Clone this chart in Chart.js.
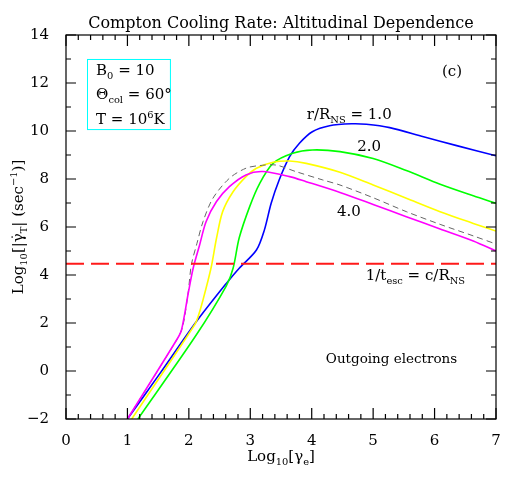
<!DOCTYPE html>
<html>
<head>
<meta charset="utf-8">
<script src="https://cdn.jsdelivr.net/npm/chart.js@4.4.1/dist/chart.umd.min.js"></script>
<style>
  html, body { margin: 0; padding: 0; background: #fff; }
  canvas { display: block; }
</style>
</head>
<body>
<canvas id="chart" width="512" height="489"></canvas>
<script>
// Log10[gamma_e] against Log10[|gamma dot|], one curve per altitude r/R_NS
const r1X = [1.0, 1.53, 2.12, 2.61, 2.82, 3.1, 3.23, 3.34, 3.47, 3.64, 3.8, 4.01, 4.29, 4.65, 4.89, 5.27, 5.82, 6.36, 7.0];
const r1Y = [-2.0, -0.1, 2.05, 3.65, 4.28, 5.04, 5.88, 6.99, 7.96, 8.93, 9.49, 9.97, 10.22, 10.3, 10.28, 10.14, 9.76, 9.39, 8.97];

const r2X = [1.17, 2.12, 2.61, 2.72, 2.82, 2.99, 3.15, 3.37, 3.69, 4.01, 4.46, 5.0, 5.54, 6.09, 6.63, 7.0];
const r2Y = [-2.0, 1.5, 3.55, 4.28, 5.55, 6.85, 7.8, 8.65, 9.07, 9.21, 9.14, 8.85, 8.35, 7.78, 7.3, 6.99];

const r3X = [1.07, 2.1, 2.15, 2.23, 2.36, 2.45, 2.55, 2.72, 2.93, 3.1, 3.37, 3.64, 3.91, 4.46, 5.0, 5.54, 6.09, 6.63, 7.0];
const r3Y = [-2.0, 1.95, 2.26, 2.96, 4.28, 5.53, 6.64, 7.47, 8.1, 8.45, 8.7, 8.75, 8.65, 8.28, 7.75, 7.2, 6.64, 6.15, 5.83];

const r4X = [1.0, 1.8, 1.88, 1.99, 2.07, 2.175, 2.28, 2.45, 2.66, 2.93, 3.2, 3.64, 3.91, 4.46, 5.0, 5.54, 6.09, 6.63, 7.0];
const r4Y = [-2.0, 1.29, 1.71, 3.24, 4.28, 5.25, 6.22, 7.06, 7.68, 8.17, 8.31, 8.1, 7.89, 7.44, 6.94, 6.43, 5.92, 5.42, 5.0];

const refX = [1.0, 1.8, 1.9, 1.99, 2.04, 2.13, 2.23, 2.39, 2.66, 2.93, 3.15, 3.42, 3.74, 4.18, 4.46, 5.0, 5.54, 6.09, 6.63, 7.0];
const refY = [-2.0, 1.29, 1.85, 3.3, 4.42, 5.3, 6.22, 7.19, 8.03, 8.45, 8.56, 8.58, 8.31, 7.96, 7.75, 7.22, 6.64, 6.11, 5.63, 5.29];

// escape rate c/R_NS
const escX = [0, 7];
const escY = [4.47, 4.47];

const xTicks = [0, 1, 2, 3, 4, 5, 6, 7];
const yTicks = [-2, 0, 2, 4, 6, 8, 10, 12, 14];

const FONT = '"DejaVu Serif"';

// text on the plot: [text, mode] with n = normal, b = subscript, p = superscript
const notes = [
  { x: 3.92, y: 10.5, size: 15, parts: [['r/R', 'n'], ['NS', 'b'], [' = 1.0', 'n']] },
  { x: 4.74, y: 9.17, size: 15, parts: [['2.0', 'n']] },
  { x: 4.41, y: 6.46, size: 15, parts: [['4.0', 'n']] },
  { x: 4.88, y: 3.79, size: 15, parts: [['1/t', 'n'], ['esc', 'b'], [' = c/R', 'n'], ['NS', 'b']] },
  { x: 4.23, y: 0.33, size: 13.5, parts: [['Outgoing electrons', 'n']] },
  { x: 6.12, y: 12.29, size: 15, parts: [['(c)', 'n']] },
  { x: 0.49, y: 12.33, size: 15, parts: [['B', 'n'], ['0', 'b'], [' = 10', 'n']] },
  { x: 0.49, y: 11.33, size: 15, parts: [['\u0398', 'n'], ['col', 'b'], [' = 60\u00b0', 'n']] },
  { x: 0.49, y: 10.29, size: 15, parts: [['T = 10', 'n'], ['6', 'p'], ['K', 'n']] }
];
const paramBox = { x0: 0.35, x1: 1.70, y0: 12.98, y1: 10.06 };

function pts(xs, ys) {
  return xs.map((v, i) => ({ x: v, y: ys[i] }));
}

function rich(ctx, parts, x, y, size, align) {
  const sm = size * 0.66;
  let w = 0;
  parts.forEach(([t, m]) => {
    ctx.font = (m === 'n' ? size : sm) + 'px ' + FONT;
    w += ctx.measureText(t).width;
  });
  let cx = align === 'center' ? x - w / 2 : x;
  parts.forEach(([t, m]) => {
    ctx.font = (m === 'n' ? size : sm) + 'px ' + FONT;
    const dy = m === 'b' ? size * 0.28 : m === 'p' ? -size * 0.42 : 0;
    ctx.fillText(t, cx, y + dy);
    cx += ctx.measureText(t).width;
  });
}

const frame = {
  id: 'frame',
  afterDraw(chart) {
    const { ctx, chartArea: a, scales: { x, y } } = chart;
    ctx.save();
    ctx.strokeStyle = '#000';
    ctx.lineWidth = 1.2;
    ctx.strokeRect(a.left, a.top, a.right - a.left, a.bottom - a.top);

    ctx.beginPath();
    for (let i = 0; i <= 35; i++) {
      const px = x.getPixelForValue(i / 5);
      const len = i % 5 === 0 ? 11 : 5;
      ctx.moveTo(px, a.bottom); ctx.lineTo(px, a.bottom - len);
      ctx.moveTo(px, a.top); ctx.lineTo(px, a.top + len);
    }
    for (let v = -2; v <= 14; v++) {
      const py = y.getPixelForValue(v);
      const len = v % 2 === 0 ? 10 : 5;
      ctx.moveTo(a.left, py); ctx.lineTo(a.left + len, py);
      ctx.moveTo(a.right, py); ctx.lineTo(a.right - len, py);
    }
    ctx.stroke();

    // parameter box
    ctx.strokeStyle = '#00ffff';
    ctx.lineWidth = 1;
    const bx0 = x.getPixelForValue(paramBox.x0), bx1 = x.getPixelForValue(paramBox.x1);
    const by0 = y.getPixelForValue(paramBox.y0), by1 = y.getPixelForValue(paramBox.y1);
    ctx.strokeRect(bx0, by0, bx1 - bx0, by1 - by0);

    ctx.fillStyle = '#000';
    ctx.textBaseline = 'alphabetic';
    ctx.textAlign = 'left';
    notes.forEach(n => rich(ctx, n.parts, x.getPixelForValue(n.x), y.getPixelForValue(n.y), n.size, 'left'));

    // title
    const cx = (a.left + a.right) / 2;
    rich(ctx, [['Compton Cooling Rate: Altitudinal Dependence', 'n']], cx, 28, 16, 'center');

    // x axis title
    rich(ctx, [['Log', 'n'], ['10', 'b'], ['[\u03b3', 'n'], ['e', 'b'], [']', 'n']], cx, 461, 15, 'center');

    // y axis title
    ctx.translate(23, (a.top + a.bottom) / 2);
    ctx.rotate(-Math.PI / 2);
    rich(ctx, [['Log', 'n'], ['10', 'b'], ['[|\u03b3\u0307', 'n'], ['T', 'b'], ['| (sec', 'n'], ['\u22121', 'p'], [')]', 'n']], 0, 0, 15, 'center');
    ctx.restore();
  }
};

Chart.defaults.font.family = FONT;
Chart.defaults.font.size = 15;
Chart.defaults.color = '#000';

const line = (data, color, extra) => Object.assign({
  data: data,
  borderColor: color,
  borderWidth: 1.6,
  pointRadius: 0,
  fill: false,
  tension: 0.3
}, extra || {});

new Chart(document.getElementById('chart'), {
  type: 'line',
  data: {
    datasets: [
      line(pts(escX, escY), '#ff1a1a', { borderWidth: 2, borderDash: [18, 7], tension: 0 }),
      line(pts(r4X, r4Y), '#ff00ff'),
      line(pts(refX, refY), '#666666', { borderWidth: 1, borderDash: [6, 4] }),
      line(pts(r3X, r3Y), '#ffff00'),
      line(pts(r2X, r2Y), '#00ff00'),
      line(pts(r1X, r1Y), '#0000ff')
    ]
  },
  options: {
    responsive: false,
    animation: false,
    devicePixelRatio: 1,
    layout: { padding: { left: 0, right: 16, top: 35, bottom: 0 } },
    plugins: { legend: { display: false }, tooltip: { enabled: false } },
    scales: {
      x: {
        type: 'linear',
        min: 0,
        max: 7,
        afterFit: s => { s.height = 70; },
        afterBuildTicks: s => { s.ticks = xTicks.map(v => ({ value: v })); },
        grid: { display: false },
        border: { display: false },
        ticks: { padding: 5, maxRotation: 0 }
      },
      y: {
        type: 'linear',
        min: -2,
        max: 14,
        afterFit: s => { s.width = 66; },
        afterBuildTicks: s => { s.ticks = yTicks.map(v => ({ value: v })); },
        grid: { display: false },
        border: { display: false },
        ticks: { padding: 9, callback: v => String(v).replace('-', '\u2212') }
      }
    }
  },
  plugins: [frame]
});
</script>
</body>
</html>
